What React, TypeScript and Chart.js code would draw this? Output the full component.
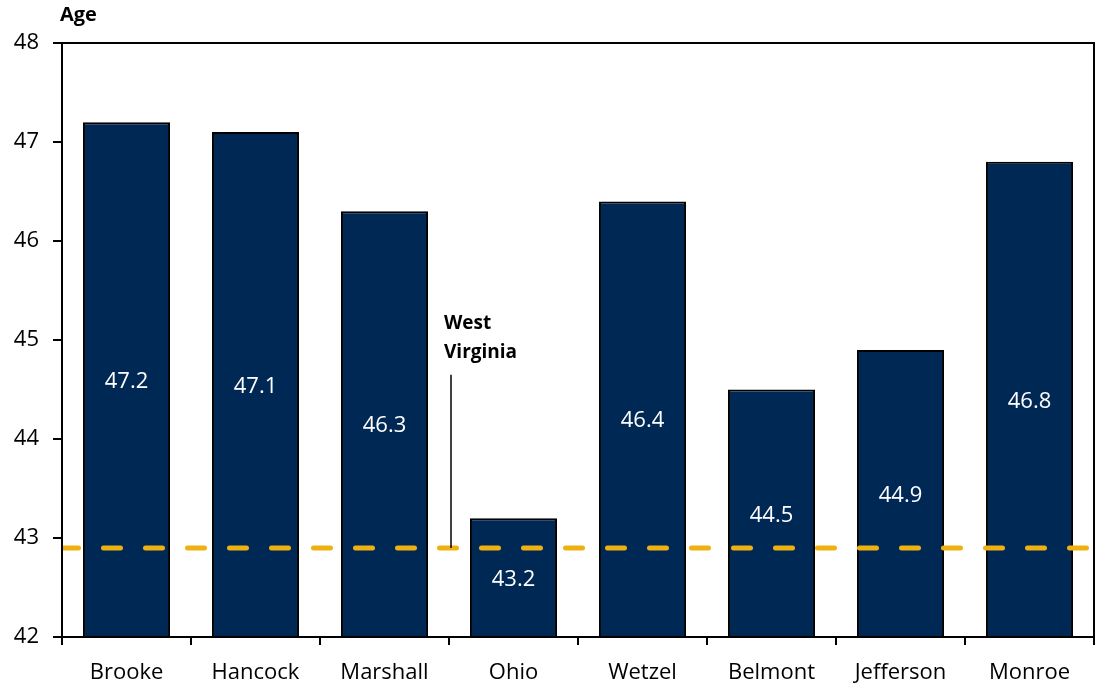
import React, { useEffect, useRef } from "react";
import { Chart, registerables } from "chart.js";

Chart.register(...registerables);

const categories = ["Brooke", "Hancock", "Marshall", "Ohio", "Wetzel", "Belmont", "Jefferson", "Monroe"];
const medianAge = [47.2, 47.1, 46.3, 43.2, 46.4, 44.5, 44.9, 46.8];
const westVirginiaAge = 42.9;
const yTicks = [42, 43, 44, 45, 46, 47, 48];
const refLabelLines = ["West", "Virginia"];
const yTitle = "Age";

const FONT = "'Open Sans', sans-serif";
const NAVY = "#002855";
const GOLD = "#EEB111";

const overlayPlugin = {
  id: "overlay",
  afterDatasetsDraw(chart: any) {
    const { ctx, chartArea, scales } = chart;
    const x = scales.x;
    const y = scales.y;
    ctx.save();
    // data labels
    ctx.fillStyle = "#ffffff";
    ctx.font = `22px ${FONT}`;
    ctx.textAlign = "center";
    ctx.textBaseline = "middle";
    medianAge.forEach((v, i) => {
      const px = x.getPixelForValue(i);
      const py = y.getPixelForValue((v + y.min) / 2) + 2;
      ctx.fillText(v.toFixed(1), px, py);
    });
    // dashed reference line
    const ly = y.getPixelForValue(westVirginiaAge);
    ctx.strokeStyle = GOLD;
    ctx.lineWidth = 5;
    ctx.lineCap = "round";
    ctx.setLineDash([17, 25]);
    ctx.save();
    ctx.beginPath();
    ctx.rect(chartArea.left, chartArea.top, chartArea.right - chartArea.left, chartArea.bottom - chartArea.top);
    ctx.clip();
    ctx.beginPath();
    ctx.moveTo(chartArea.left - 0.5, ly);
    ctx.lineTo(chartArea.right, ly);
    ctx.stroke();
    ctx.restore();
    ctx.setLineDash([]);
    // annotation
    const ax = (x.getPixelForValue(2) + x.getPixelForValue(3)) / 2 + 2;
    ctx.strokeStyle = "#000000";
    ctx.lineWidth = 1.5;
    ctx.lineCap = "butt";
    ctx.beginPath();
    ctx.moveTo(ax, y.getPixelForValue(44.65));
    ctx.lineTo(ax, ly);
    ctx.stroke();
    ctx.fillStyle = "#000000";
    ctx.font = `bold 19px ${FONT}`;
    ctx.textAlign = "left";
    ctx.textBaseline = "middle";
    refLabelLines.forEach((t, i) => {
      ctx.fillText(t, ax - 7, y.getPixelForValue(45.17) + i * 29);
    });
    // border box
    ctx.strokeStyle = "#000000";
    ctx.lineWidth = 2;
    ctx.strokeRect(chartArea.left, chartArea.top, chartArea.right - chartArea.left, chartArea.bottom - chartArea.top);
    // axis title
    ctx.font = `bold 20px ${FONT}`;
    ctx.textAlign = "left";
    ctx.textBaseline = "middle";
    ctx.fillText(yTitle, 60, 15);
    ctx.restore();
  },
};

export default function App() {
  const ref = useRef<HTMLCanvasElement | null>(null);
  useEffect(() => {
    document.body.style.margin = "0";
    const chart = new Chart(ref.current as HTMLCanvasElement, {
      type: "bar",
      data: {
        labels: categories,
        datasets: [
          {
            data: medianAge,
            backgroundColor: NAVY,
            borderColor: "#000000",
            borderWidth: 2,
            categoryPercentage: 1,
            barPercentage: 0.675,
            base: 42,
          },
        ],
      },
      options: {
        animation: false,
        responsive: false,
        layout: { padding: { top: 43, right: 3, left: 0, bottom: 0 } },
        plugins: { legend: { display: false }, tooltip: { enabled: false } },
        scales: {
          x: {
            grid: {
              display: true,
              drawOnChartArea: false,
              drawTicks: true,
              tickLength: 8,
              color: "#000000",
              lineWidth: 2,
              offset: true,
            },
            border: { display: true, color: "#000000", width: 2 },
            ticks: {
              color: "#000000",
              font: { family: FONT, size: 22 },
              padding: 15,
            },
            afterFit(scale: any) {
              scale.height = 49;
            },
          },
          y: {
            min: 42,
            max: 48,
            afterBuildTicks(scale: any) {
              scale.ticks = yTicks.map((v) => ({ value: v }));
            },
            grid: {
              display: true,
              drawOnChartArea: false,
              tickLength: 9,
              color: "#000000",
              lineWidth: 2,
            },
            border: { display: true, color: "#000000", width: 2 },
            ticks: {
              color: "#000000",
              font: { family: FONT, size: 22 },
              padding: 14,
            },
            afterFit(scale: any) {
              scale.width = 62;
            },
          },
        },
      },
      plugins: [overlayPlugin],
    });
    return () => chart.destroy();
  }, []);
  return <canvas ref={ref} width={1097} height={686} style={{ display: "block" }} />;
}
